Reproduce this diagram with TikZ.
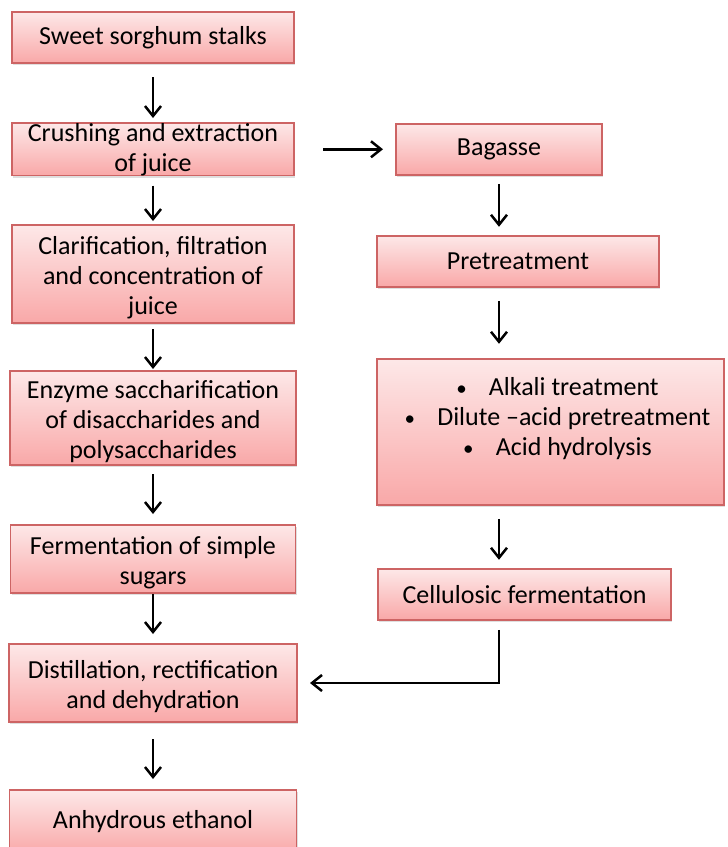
\documentclass[tikz,border=0pt]{standalone}
\usepackage{fontspec}
\setmainfont{Carlito}
\usepackage{xcolor}
\usepackage{tikz}
\usetikzlibrary{arrows.meta,positioning,shadows}

\definecolor{boxtop}{RGB}{253,232,232}
\definecolor{boxbottom}{RGB}{249,168,168}
\definecolor{boxline}{RGB}{205,100,100}
\newcommand{\bulitem}{{\fontsize{21}{21}\selectfont\textbullet}\hspace{0.85em}}
\newcommand{\topstrut}{\rule{0pt}{25pt}}

\begin{document}
\begin{tikzpicture}[
    font=\fontsize{26}{30}\selectfont,
    process/.style={draw=boxline, line width=1.5pt, top color=boxtop, bottom color=boxbottom,
      align=center, inner sep=0pt, outer sep=0pt, text=black,
      drop shadow={shadow xshift=1.2pt, shadow yshift=-2pt, opacity=0.25}},
    flow/.style={-{Straight Barb[length=10pt,width=16pt]}, line width=2.5pt}
  ]
    \useasboundingbox[fill=white] (0,0) rectangle (728pt,-847pt);

    % sugar route
    \node[process, minimum width=282pt, minimum height=51pt] (stalks) at (153pt,-37.5pt) {Sweet sorghum stalks};
    \node[process, minimum width=282pt, minimum height=52pt, below=60pt of stalks] (crushing) {Crushing and extraction\\of juice};
    \node[process, minimum width=282pt, minimum height=98pt, below=49.5pt of crushing] (clarify) {\topstrut Clarification, filtration\\and concentration of\\juice};
    \node[process, minimum width=286pt, minimum height=94pt, below=48pt of clarify] (enzyme) {\topstrut Enzyme saccharification\\of disaccharides and\\polysaccharides};
    \node[process, minimum width=285pt, minimum height=68pt, below=60pt of enzyme] (ferment) {\topstrut Fermentation of simple\\sugars};
    \node[process, minimum width=288pt, minimum height=78pt, below=51pt of ferment] (distill) {\topstrut Distillation, rectification\\and dehydration};
    \node[process, minimum width=287pt, minimum height=64pt, below=68pt of distill] (ethanol) {Anhydrous ethanol};

    % bagasse route
    \node[process, minimum width=206pt, minimum height=51pt, right=102pt of crushing] (bagasse) {Bagasse};
    \node[process, minimum width=282pt, minimum height=51pt, below=61pt of bagasse, xshift=19pt] (pretreat) {Pretreatment};
    \node[process, minimum width=347pt, minimum height=146pt, below=72pt of pretreat, xshift=32.5pt] (methods)
      {\hspace*{14pt}\bulitem Alkali treatment\\\hspace*{14pt}\bulitem Dilute –acid pretreatment\\\hspace*{14pt}\bulitem Acid hydrolysis\\\mbox{}};
    \node[process, minimum width=293pt, minimum height=51pt, below=64pt of methods, xshift=-26pt] (cellulose) {Cellulosic fermentation};

    \draw[flow, shorten <=14pt, shorten >=5pt] (stalks) -- (crushing);
    \draw[flow, shorten <=10pt, shorten >=4pt] (crushing) -- (clarify);
    \draw[flow, shorten <=6pt, shorten >=2pt] (clarify) -- (enzyme);
    \draw[flow, shorten <=9pt, shorten >=11pt] (enzyme) -- (ferment);
    \draw[flow, shorten <=1pt, shorten >=10pt] (ferment) -- (distill);
    \draw[flow, shorten <=17pt, shorten >=11pt] (distill) -- (ethanol);

    \draw[flow, shorten <=29pt, shorten >=13pt] (crushing) -- (bagasse);
    \draw[flow, shorten <=9pt, shorten >=9pt] (bagasse) -- (bagasse |- pretreat.north);
    \draw[flow, shorten <=14pt, shorten >=15pt] (bagasse |- pretreat.south) -- (bagasse |- methods.north);
    \draw[flow, shorten <=14pt, shorten >=9pt] (bagasse |- methods.south) -- (bagasse |- cellulose.north);
    \draw[flow, shorten <=10pt, shorten >=13pt] (bagasse |- cellulose.south) |- (distill.east);
  \end{tikzpicture}
\end{document}
